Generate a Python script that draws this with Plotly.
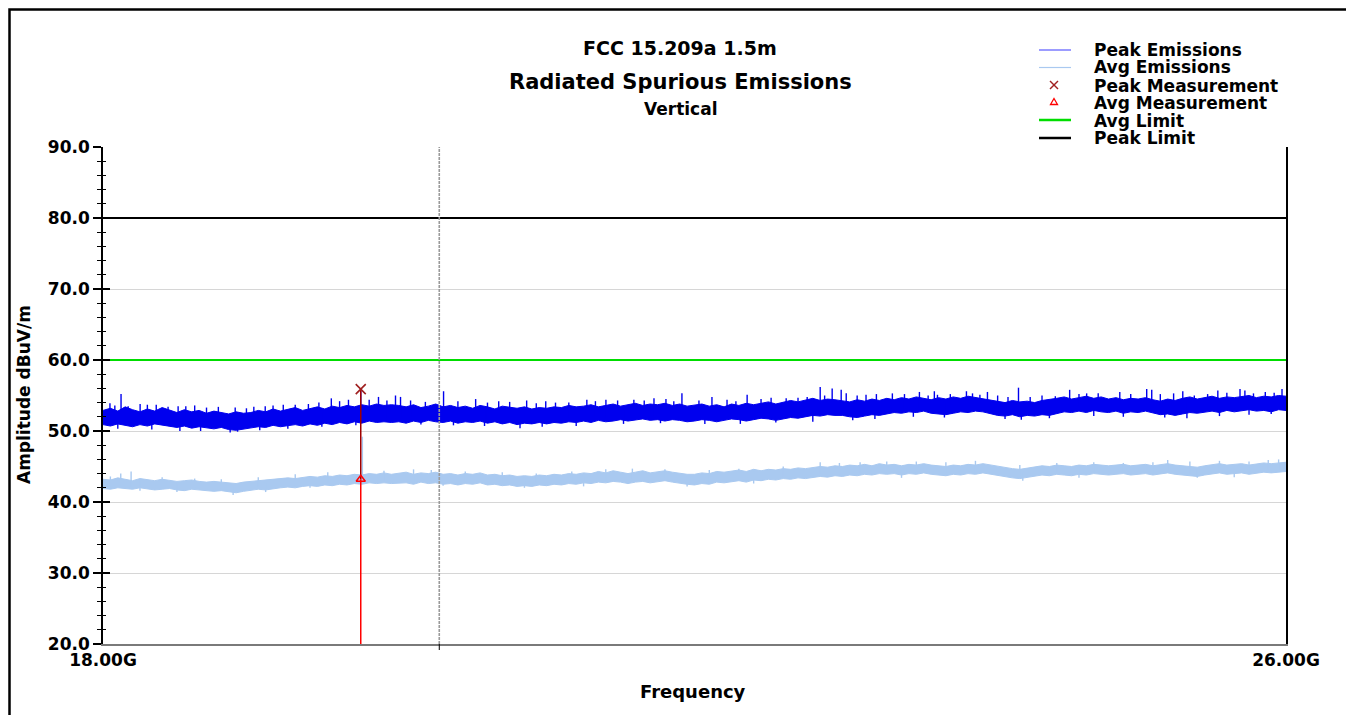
import numpy as np
import plotly.graph_objects as go

# ---------------- data ----------------
freq_ghz = np.round(18.0 + 0.05 * np.arange(161), 2)   # sweep grid, GHz

peak_lo = [
    50.9, 50.7, 51.0, 50.8, 50.6, 50.9, 50.7, 51.0, 50.8, 50.6, 50.5, 50.7, 50.4, 50.6, 50.5, 50.3, 50.5, 50.2, 50.1, 50.3,
    50.4, 50.6, 50.5, 50.8, 50.6, 50.7, 50.9, 50.7, 51.0, 50.8, 51.1, 50.9, 51.2, 51.0, 51.3, 51.1, 51.4, 51.2, 51.3, 51.2,
    51.3, 51.1, 51.4, 51.2, 51.5, 51.3, 51.2, 51.4, 51.1, 51.3, 51.2, 51.4, 51.1, 51.3, 51.0, 51.2, 50.9, 51.1, 51.0, 51.2,
    51.0, 51.2, 51.1, 51.3, 51.2, 51.4, 51.2, 51.5, 51.3, 51.4, 51.6, 51.4, 51.5, 51.7, 51.5, 51.6, 51.4, 51.6, 51.5, 51.3,
    51.4, 51.6, 51.5, 51.3, 51.5, 51.7, 51.6, 51.4, 51.6, 51.8, 51.7, 51.5, 51.7, 51.9, 51.8, 52.0, 52.2, 52.1, 52.3, 52.2,
    52.2, 52.0, 51.9, 52.1, 52.3, 52.2, 52.4, 52.6, 52.5, 52.7, 52.6, 52.8, 52.5, 52.4, 52.3, 52.5, 52.7, 52.6, 52.8, 52.7,
    52.4, 52.2, 52.1, 52.3, 52.0, 52.2, 52.1, 52.3, 52.2, 52.5, 52.7, 52.6, 52.8, 52.6, 52.9, 52.7, 52.6, 52.8, 52.5, 52.7,
    52.6, 52.8, 52.5, 52.3, 52.4, 52.2, 52.4, 52.6, 52.5, 52.7, 52.8, 52.6, 52.9, 52.7, 52.8, 53.0, 52.8, 52.9, 52.7, 53.0, 52.9,
]
peak_hi = [
    52.9, 53.2, 52.8, 53.4, 53.0, 52.7, 53.1, 52.8, 53.3, 52.9, 52.6, 53.0, 52.7, 52.9, 52.5, 52.8, 52.6, 52.4, 52.7, 52.5,
    52.6, 52.9, 52.7, 53.1, 52.8, 53.0, 53.3, 52.9, 53.2, 53.4, 53.1, 53.5, 53.3, 53.6, 53.4, 53.7, 53.5, 53.8, 53.6, 53.7,
    53.6, 53.4, 53.7, 53.3, 53.5, 53.8, 53.4, 53.6, 53.3, 53.5, 53.2, 53.6, 53.4, 53.1, 53.5, 53.3, 53.2, 53.4, 53.1, 53.3,
    53.2, 53.4, 53.3, 53.6, 53.4, 53.5, 53.7, 53.4, 53.6, 53.8, 53.5, 53.7, 53.9, 53.6, 53.8, 53.7, 53.9, 53.6, 53.8, 53.5,
    53.6, 53.8, 53.5, 53.7, 53.4, 53.8, 53.6, 53.9, 53.7, 53.9, 54.1, 53.8, 54.0, 54.3, 54.1, 54.4, 54.6, 54.3, 54.5, 54.4,
    54.3, 54.1, 54.4, 54.2, 54.5, 54.3, 54.6, 54.4, 54.7, 54.5, 54.8, 54.6, 54.4, 54.7, 54.5, 54.8, 54.6, 54.9, 54.7, 54.6,
    54.4, 54.2, 54.0, 54.3, 54.1, 54.2, 54.0, 54.3, 54.4, 54.6, 54.8, 54.5, 54.7, 54.9, 54.6, 54.8, 54.5, 54.7, 54.4, 54.6,
    54.5, 54.7, 54.4, 54.2, 54.5, 54.3, 54.6, 54.8, 54.5, 54.7, 54.9, 54.6, 54.8, 54.7, 54.9, 55.0, 54.7, 54.9, 54.8, 55.0, 54.9,
]
# upward peaks rising above the peak trace body
peak_spike_f = [18.047, 18.122, 18.251, 18.36, 18.508, 18.62, 18.894, 19.097, 19.219, 19.389, 19.544, 19.660,
                19.743, 19.863, 19.978, 20.012, 20.303, 20.520, 20.676, 20.865, 20.994, 21.15, 21.272, 21.401,
                21.590, 21.726, 21.807, 21.915, 22.118, 22.356, 22.518, 22.762, 22.850, 22.931, 22.992, 23.026,
                23.230, 23.338, 23.521, 23.622, 23.643, 23.839, 23.880, 23.981, 24.191, 24.35, 24.537, 24.652,
                24.876, 25.058, 25.092, 25.302, 25.539, 25.689, 25.722, 25.973,
                18.08, 18.17, 18.30, 18.44, 18.56, 18.70, 18.78, 18.97, 19.02, 19.15, 19.30, 19.46, 19.60, 19.80,
                19.92, 20.08, 20.18, 20.40, 20.60, 20.75, 20.93, 21.06, 21.33, 21.48, 21.66, 21.86, 22.03, 22.22,
                22.28, 22.45, 22.62, 22.70, 22.88, 23.10, 23.16, 23.42, 23.58, 23.73, 23.93, 24.05, 24.12, 24.27,
                24.44, 24.60, 24.73, 24.95, 25.15, 25.24, 25.38, 25.47, 25.60, 25.78, 25.86, 25.92]
peak_spike_v = [53.9, 55.2, 53.8, 53.7, 53.5, 53.6, 53.3, 53.5, 53.7, 53.8, 54.6, 54.4,
                55.9, 54.8, 55.0, 54.8, 55.6, 54.5, 54.2, 54.3, 54.2, 54.0, 54.4, 54.4,
                54.4, 54.6, 54.5, 55.3, 54.8, 55.1, 54.7, 54.8, 56.2, 56.0, 55.8, 55.3,
                55.2, 55.3, 55.5, 55.6, 55.1, 55.6, 55.3, 55.5, 56.1, 55.0, 55.8, 55.3,
                55.5, 55.9, 55.8, 55.6, 55.7, 55.9, 55.7, 55.9,
                53.6, 53.5, 53.7, 53.4, 53.5, 53.3, 53.4, 53.2, 53.4, 53.6, 53.7, 54.0, 54.2, 54.4,
                54.3, 54.3, 54.1, 54.2, 54.0, 54.1, 53.9, 54.0, 54.2, 54.3, 54.3, 54.2, 54.3, 54.4,
                54.2, 54.5, 54.6, 54.7, 55.0, 55.0, 55.1, 55.2, 55.0, 55.2, 55.1, 55.0, 54.8, 54.8,
                54.9, 55.2, 55.3, 55.2, 55.2, 55.3, 55.0, 55.2, 55.4, 55.3, 55.5, 55.4]
# downward dips below the peak trace body
peak_dip_f = [18.10, 18.33, 18.52, 18.66, 18.86, 18.91, 19.06, 19.25, 19.48, 19.71, 20.15, 20.37, 20.58,
              20.82, 20.97, 21.20, 21.52, 21.77, 22.07, 22.31, 22.55, 22.80, 23.07, 23.22, 23.48, 23.69,
              24.10, 24.21, 24.40, 24.70, 24.90, 25.18, 25.33, 25.55, 25.75, 25.90]
peak_dip_v = [50.3, 50.2, 50.0, 50.0, 49.8, 49.9, 50.1, 50.3, 50.6, 50.8, 50.9, 50.8, 50.7,
              50.4, 50.6, 50.7, 51.0, 51.1, 51.0, 51.0, 51.2, 51.3, 51.5, 51.7, 52.0, 51.9,
              51.7, 51.6, 51.8, 52.1, 52.0, 51.9, 51.8, 52.1, 52.3, 52.4]

avg_lo = [
    41.9, 41.8, 42.0, 41.9, 41.8, 42.0, 41.9, 41.7, 41.8, 41.9, 41.7, 41.6, 41.8, 41.7, 41.6, 41.5, 41.6, 41.4, 41.3, 41.5,
    41.6, 41.8, 41.7, 41.9, 42.0, 42.1, 42.0, 42.2, 42.3, 42.2, 42.4, 42.3, 42.5, 42.4, 42.6, 42.5, 42.7, 42.6, 42.7, 42.6,
    42.6, 42.7, 42.5, 42.8, 42.6, 42.7, 42.5, 42.6, 42.4, 42.6, 42.5, 42.7, 42.4, 42.5, 42.3, 42.4, 42.2, 42.3, 42.2, 42.4,
    42.3, 42.5, 42.4, 42.6, 42.5, 42.7, 42.6, 42.8, 42.7, 42.9, 42.8, 42.6, 42.8, 42.9, 42.7, 42.8, 43.0, 42.8, 42.6, 42.5,
    42.4, 42.6, 42.5, 42.8, 42.7, 42.9, 43.0, 42.8, 43.1, 43.0, 43.2, 43.1, 43.3, 43.2, 43.4, 43.3, 43.5, 43.6, 43.5, 43.7,
    43.6, 43.8, 43.7, 43.9, 43.8, 44.0, 43.9, 44.0, 43.8, 44.0, 43.9, 44.1, 43.9, 43.8, 43.7, 43.9, 43.8, 44.0, 43.9, 44.1,
    43.9, 43.7, 43.6, 43.4, 43.3, 43.5, 43.6, 43.8, 43.7, 43.9, 43.8, 43.7, 43.9, 43.8, 44.0, 43.9, 43.8, 43.9, 44.0, 43.8,
    43.9, 44.0, 43.8, 43.9, 44.1, 43.9, 43.8, 43.7, 43.6, 43.8, 44.0, 44.1, 43.9, 44.0, 44.1, 43.9, 44.0, 44.2, 44.1, 44.2, 44.3,
]
avg_hi = [
    43.2, 43.1, 43.4, 43.2, 43.0, 43.3, 43.1, 43.0, 43.2, 43.1, 42.9, 43.0, 43.1, 42.9, 42.8, 42.9, 42.8, 42.7, 42.6, 42.8,
    42.9, 43.0, 43.1, 43.2, 43.3, 43.4, 43.3, 43.5, 43.6, 43.5, 43.7, 43.6, 43.8, 43.7, 43.9, 43.8, 44.0, 43.9, 44.1, 43.9,
    44.0, 44.2, 43.9, 44.1, 44.0, 44.2, 43.9, 44.0, 43.8, 44.0, 43.9, 44.1, 43.8, 43.9, 43.7, 43.8, 43.6, 43.7, 43.6, 43.8,
    43.7, 43.9, 43.8, 44.0, 43.9, 44.1, 44.0, 44.3, 44.1, 44.4, 44.2, 44.0, 44.2, 44.4, 44.1, 44.2, 44.4, 44.2, 44.0, 43.9,
    43.9, 44.1, 44.0, 44.3, 44.2, 44.4, 44.5, 44.3, 44.6, 44.4, 44.6, 44.5, 44.7, 44.6, 44.8, 44.7, 44.9, 45.0, 44.9, 45.1,
    45.0, 45.2, 45.1, 45.3, 45.1, 45.4, 45.2, 45.3, 45.1, 45.3, 45.2, 45.4, 45.2, 45.1, 45.0, 45.2, 45.1, 45.3, 45.2, 45.4,
    45.2, 45.0, 44.9, 44.7, 44.6, 44.8, 44.9, 45.1, 45.0, 45.2, 45.1, 45.0, 45.2, 45.1, 45.3, 45.2, 45.1, 45.2, 45.3, 45.1,
    45.2, 45.3, 45.1, 45.2, 45.4, 45.2, 45.1, 45.0, 44.9, 45.1, 45.3, 45.4, 45.2, 45.3, 45.4, 45.2, 45.3, 45.5, 45.4, 45.5, 45.6,
]
avg_spike_f = [18.19, 19.754, 20.10, 22.85, 23.30, 25.20, 25.95,
               18.05, 18.12, 18.40, 18.62, 18.80, 19.05, 19.30, 19.52, 19.90, 20.22, 20.45, 20.70, 20.93, 21.17,
               21.40, 21.58, 21.80, 22.10, 22.30, 22.60, 22.98, 23.12, 23.50, 23.70, 23.90, 24.20, 24.45, 24.70,
               24.90, 25.10, 25.35, 25.55, 25.75, 25.88]
avg_spike_v = [44.3, 49.2, 44.6, 45.6, 45.7, 45.9, 46.0,
               43.6, 44.0, 43.5, 43.3, 43.2, 43.5, 43.9, 44.2, 44.4, 44.5, 44.3, 44.2, 44.0, 44.3,
               44.6, 44.7, 44.6, 44.5, 44.7, 45.0, 45.5, 45.6, 45.7, 45.6, 45.8, 45.2, 45.5, 45.6,
               45.5, 45.6, 45.7, 45.8, 45.7, 45.9]
avg_dip_f = [18.25, 18.50, 18.88, 19.10, 19.40, 20.30, 20.85, 21.25, 21.95, 22.40, 23.40, 24.22, 24.60,
             25.40, 25.65]
avg_dip_v = [41.6, 41.4, 41.0, 41.4, 42.0, 42.3, 42.0, 42.2, 42.2, 42.6, 43.4, 43.0, 43.4, 43.4, 43.5]

meas_f = 19.743          # GHz
peak_meas = 55.9         # dBuV/m
avg_meas = 43.2          # dBuV/m
avg_limit = 60.0
peak_limit = 80.0
cursor_f = 20.274        # GHz (grey cursor line)

y_ticks = [20, 30, 40, 50, 60, 70, 80, 90]
x_tick_vals = [18.0, 26.0]
x_tick_text = ["18.00G", "26.00G"]

legend_labels = ["Peak Emissions", "Avg Emissions", "Peak Measurement",
                 "Avg Measurement", "Avg Limit", "Peak Limit"]

assert all(len(a) == 161 for a in (peak_lo, peak_hi, avg_lo, avg_hi))
assert len(peak_spike_f) == len(peak_spike_v)
assert len(peak_dip_f) == len(peak_dip_v)
assert len(avg_spike_f) == len(avg_spike_v)
assert len(avg_dip_f) == len(avg_dip_v)

# ---------------- styling ----------------
OFF = 8                       # page body margin of the html page
W, H = 1354 - OFF, 715 - OFF
L, R, T, B = 103, 1286, 147, 644   # plot area in page pixels
FONT = "DejaVu Sans"
PEAK_C = "#0000ee"
AVG_C = "#a9c9f0"
GREEN = "#00dd00"


def px(xp):
    return (xp - L) / (R - L)


def py(yp):
    return (B - yp) / (B - T)


def segs(fs, vs, base_list, delta):
    idx = np.clip(np.rint((np.array(fs) - 18.0) / 0.05).astype(int), 0, 160)
    xs, ys = [], []
    for f, v, i in zip(fs, vs, idx):
        xs += [f, f, None]
        ys += [base_list[i] + delta, v, None]
    return xs, ys


fig = go.Figure()

# average emissions
fig.add_trace(go.Scatter(x=freq_ghz, y=avg_lo, mode="lines",
                         line=dict(color=AVG_C, width=1), hoverinfo="skip"))
fig.add_trace(go.Scatter(x=freq_ghz, y=avg_hi, mode="lines", fill="tonexty",
                         fillcolor=AVG_C, line=dict(color=AVG_C, width=1), hoverinfo="skip"))
sx, sy = segs(avg_spike_f, avg_spike_v, avg_lo, 0.3)
fig.add_trace(go.Scatter(x=sx, y=sy, mode="lines", line=dict(color=AVG_C, width=1.4),
                         hoverinfo="skip"))
sx, sy = segs(avg_dip_f, avg_dip_v, avg_hi, -0.3)
fig.add_trace(go.Scatter(x=sx, y=sy, mode="lines", line=dict(color=AVG_C, width=1.4),
                         hoverinfo="skip"))

# peak emissions
fig.add_trace(go.Scatter(x=freq_ghz, y=peak_lo, mode="lines",
                         line=dict(color=PEAK_C, width=1), hoverinfo="skip"))
fig.add_trace(go.Scatter(x=freq_ghz, y=peak_hi, mode="lines", fill="tonexty",
                         fillcolor=PEAK_C, line=dict(color=PEAK_C, width=1), hoverinfo="skip"))
sx, sy = segs(peak_spike_f, peak_spike_v, peak_lo, 0.5)
fig.add_trace(go.Scatter(x=sx, y=sy, mode="lines", line=dict(color=PEAK_C, width=1.4),
                         hoverinfo="skip"))
sx, sy = segs(peak_dip_f, peak_dip_v, peak_hi, -0.5)
fig.add_trace(go.Scatter(x=sx, y=sy, mode="lines", line=dict(color=PEAK_C, width=1.4),
                         hoverinfo="skip"))

# limits
fig.add_trace(go.Scatter(x=[18.0, 26.0], y=[avg_limit, avg_limit], mode="lines",
                         line=dict(color=GREEN, width=2), yaxis="y2", hoverinfo="skip"))
fig.add_trace(go.Scatter(x=[18.0, 26.0], y=[peak_limit, peak_limit], mode="lines",
                         line=dict(color="black", width=2), yaxis="y2", hoverinfo="skip"))

# measurement stems and markers
fig.add_trace(go.Scatter(x=[meas_f, meas_f], y=[peak_meas, avg_meas], mode="lines",
                         line=dict(color="#a00000", width=1.5), hoverinfo="skip"))
fig.add_trace(go.Scatter(x=[meas_f, meas_f], y=[avg_meas, 20.0], mode="lines",
                         line=dict(color="#ff0000", width=1.5), hoverinfo="skip"))
fig.add_trace(go.Scatter(x=[meas_f], y=[peak_meas], mode="markers",
                         marker=dict(symbol="x-thin", size=10,
                                     line=dict(color="#a02020", width=1.6)),
                         cliponaxis=False, hoverinfo="skip"))
fig.add_trace(go.Scatter(x=[meas_f], y=[avg_meas], mode="markers",
                         marker=dict(symbol="triangle-up-open", size=8, color="#ff0000",
                                     line=dict(color="#ff0000", width=1.5)),
                         cliponaxis=False, hoverinfo="skip"))

shapes = []
# grey cursor line
shapes.append(dict(type="line", xref="x", yref="paper", x0=cursor_f, x1=cursor_f, y0=0, y1=1,
                   line=dict(color="#9a9a9a", width=1.6, dash="3px,1px"), layer="above"))
shapes.append(dict(type="line", xref="x", yref="paper", x0=cursor_f, x1=cursor_f,
                   y0=0, y1=py(650), line=dict(color="black", width=1)))
# outer frame
shapes.append(dict(type="rect", xref="paper", yref="paper", x0=px(9.5), x1=px(1351),
                   y0=py(730), y1=py(9.5), line=dict(color="black", width=2.5)))

# legend line samples
legend_rows = [50, 67.5, 85, 102, 120, 138]
legend_text_rows = [50, 67.5, 86, 103.5, 121.5, 138]
line_samples = [(0, "#5a5aff", 1.2), (1, "#a9c9f0", 1.2), (4, GREEN, 2.5), (5, "black", 2.5)]
for i, c, w in line_samples:
    shapes.append(dict(type="line", xref="paper", yref="paper", x0=px(1039), x1=px(1071),
                       y0=py(legend_rows[i]), y1=py(legend_rows[i]), line=dict(color=c, width=w)))
# legend glyph: peak measurement (x)
gx, gy, gs = 1054, legend_rows[2], 4
for (xa, ya, xb, yb) in [(gx - gs, gy - gs, gx + gs, gy + gs), (gx - gs, gy + gs, gx + gs, gy - gs)]:
    shapes.append(dict(type="line", xref="paper", yref="paper", x0=px(xa), y0=py(ya),
                       x1=px(xb), y1=py(yb), line=dict(color="#a02020", width=1.4)))
# legend glyph: avg measurement (open triangle)
tx, ty = 1054, legend_rows[3]
shapes.append(dict(type="path", xref="paper", yref="paper",
                   path="M {:.5f},{:.5f} L {:.5f},{:.5f} L {:.5f},{:.5f} Z".format(
                       px(tx), py(ty - 3.5), px(tx + 3.5), py(ty + 2.5), px(tx - 3.5), py(ty + 2.5)),
                   line=dict(color="#ff0000", width=1.3)))

annotations = []
for lab, yr in zip(legend_labels, legend_text_rows):
    annotations.append(dict(text="<b>" + lab + "</b>", xref="paper", yref="paper",
                            x=px(1092), y=py(yr), xanchor="left", yanchor="middle",
                            showarrow=False, font=dict(family=FONT, size=17, color="black")))

titles = [("FCC 15.209a 1.5m", 48, 19), ("Radiated Spurious Emissions", 82, 21), ("Vertical", 109, 17)]
for t, yr, s in titles:
    annotations.append(dict(text="<b>" + t + "</b>", xref="paper", yref="paper",
                            x=px(680), y=py(yr), xanchor="center", yanchor="middle",
                            showarrow=False, font=dict(family=FONT, size=s, color="black")))

annotations.append(dict(text="<b>Frequency</b>", xref="paper", yref="paper",
                        x=px(693), y=py(691), xanchor="center", yanchor="middle",
                        showarrow=False, font=dict(family=FONT, size=18, color="black")))
annotations.append(dict(text="<b>Amplitude dBuV/m</b>", xref="paper", yref="paper",
                        x=px(24), y=py(395), xanchor="center", yanchor="middle", textangle=-90,
                        showarrow=False, font=dict(family=FONT, size=17, color="black")))

fig.update_layout(
    width=W, height=H,
    margin=dict(l=L - OFF, r=W - (R - OFF), t=T - OFF, b=H - (B - OFF)),
    paper_bgcolor="white", plot_bgcolor="white",
    showlegend=False,
    shapes=shapes, annotations=annotations,
    xaxis=dict(range=[18.0, 26.0], showgrid=False, zeroline=False,
               tickmode="array", tickvals=x_tick_vals, ticktext=x_tick_text, ticks="",
               tickfont=dict(family=FONT, size=17, color="black", weight="bold"),
               showline=True, linecolor="#7a7a7a", linewidth=2),
    yaxis=dict(range=[20, 90], tickmode="array", tickvals=y_ticks, tickformat=".1f",
               ticks="outside", ticklen=8, tickwidth=1.5, tickcolor="black",
               minor=dict(dtick=2, ticks="outside", ticklen=4, tickwidth=1, tickcolor="black",
                          showgrid=False),
               tickfont=dict(family=FONT, size=17, color="black", weight="bold"),
               showgrid=True, gridcolor="#d6d6d6", gridwidth=1, zeroline=False,
               showline=True, linecolor="black", linewidth=1.6, mirror=True),
    yaxis2=dict(range=[20, 90], overlaying="y", side="left", showticklabels=False,
                ticks="inside", ticklen=7, tickwidth=1.5, tickcolor="black",
                tickmode="array", tickvals=y_ticks,
                minor=dict(dtick=2, ticks="inside", ticklen=3, tickwidth=1, tickcolor="black",
                           showgrid=False),
                showgrid=False, zeroline=False, showline=False),
)

fig.write_html("out.html")
